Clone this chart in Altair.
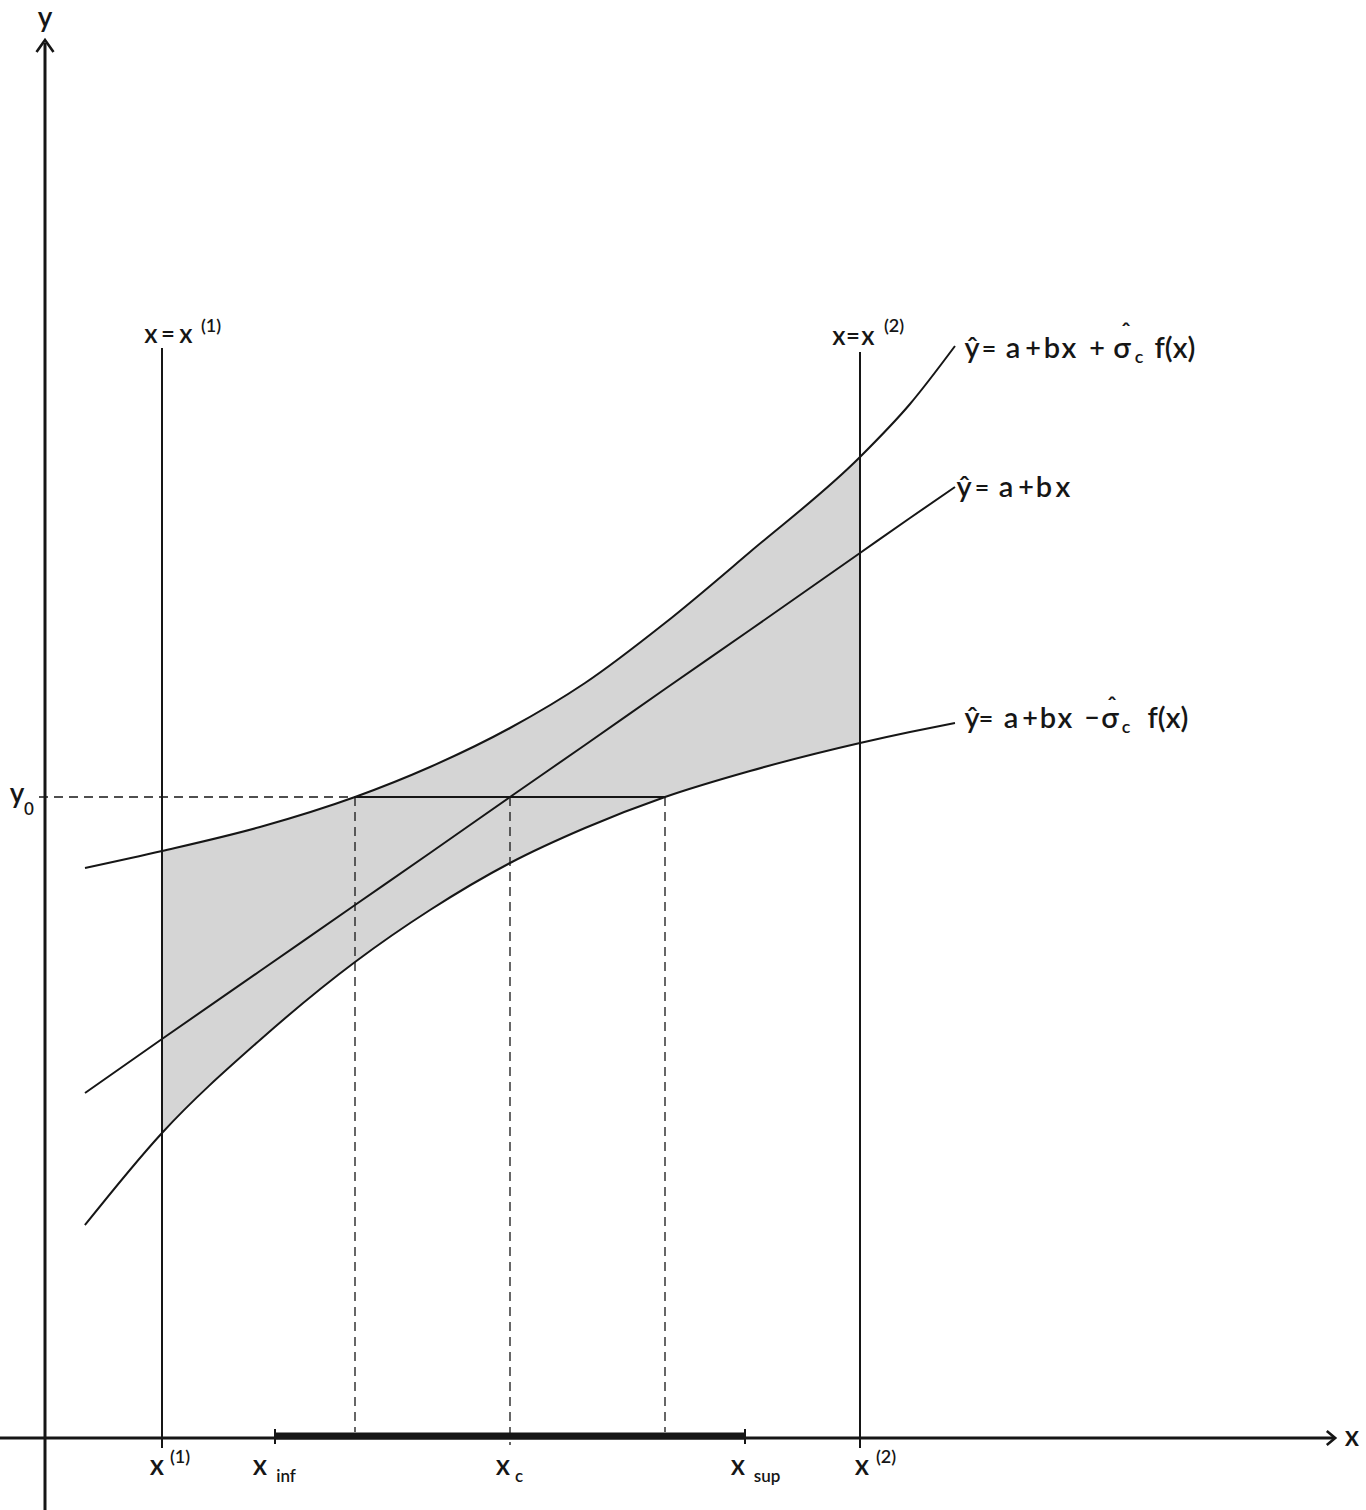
import altair as alt
import pandas as pd

# Diagram units: origin where the two axes cross, y pointing up.
X_MIN, X_MAX = -45, 1321
Y_MIN, Y_MAX = -72, 1438

# Regression line and the two band curves, sampled at common abscissae.
xs     = [40, 117, 215, 310, 385, 465, 540, 620, 705, 815, 865, 910]
upper  = [570, 587, 611, 641, 671, 710, 755, 815, 886, 981, 1034, 1092]
middle = [345, 399, 467, 533, 585, 641, 693, 749, 808, 885, 920, 951]
lower  = [213, 305, 398, 476, 528, 575, 610, 641, 667, 695, 706, 715]

x1, x2 = 117, 815            # x = x(1), x = x(2)
x_inf, x_c, x_sup = 230, 465, 700
x_lo, x_hi = 310, 620        # where y0 meets the upper and lower curves
y0 = 641

INK = "#161616"
FONT = "Lato"
WEIGHT = 600

xsc = alt.Scale(domain=[X_MIN, X_MAX], nice=False, zero=False)
ysc = alt.Scale(domain=[Y_MIN, Y_MAX], nice=False, zero=False)


def X(field="x"):
    return alt.X(f"{field}:Q", scale=xsc, axis=None)


def Y(field="y"):
    return alt.Y(f"{field}:Q", scale=ysc, axis=None)


# --- shaded band, kept only between x(1) and x(2)
band = pd.DataFrame({"x": xs, "lo": lower, "hi": upper})
shade = alt.Chart(band).mark_area(
    interpolate="monotone", color="#d5d5d5", opacity=1
).encode(x=X(), y=Y("lo"), y2=alt.Y2("hi:Q"))

outside = pd.DataFrame({
    "x": [3, x2], "x2": [x1, 960],
    "y": [min(lower) - 10] * 2, "y2": [max(upper) + 10] * 2,
})
blank = alt.Chart(outside).mark_rect(color="white", opacity=1).encode(
    x=X(), x2=alt.X2("x2:Q"), y=Y(), y2=alt.Y2("y2:Q")
)

# --- the three curves
curves = pd.concat([
    pd.DataFrame({"x": xs, "y": upper, "curve": "upper"}),
    pd.DataFrame({"x": xs, "y": middle, "curve": "middle"}),
    pd.DataFrame({"x": xs, "y": lower, "curve": "lower"}),
])
lines = alt.Chart(curves).mark_line(
    interpolate="monotone", color=INK, strokeWidth=2
).encode(x=X(), y=Y(), detail="curve:N")


def rules(rows, **style):
    df = pd.DataFrame(rows, columns=["x", "y", "x2", "y2"])
    return alt.Chart(df).mark_rule(color=INK, **style).encode(
        x=X(), y=Y(), x2=alt.X2("x2:Q"), y2=alt.Y2("y2:Q")
    )


dashed = rules([
    (-6, y0, x_lo, y0),
    (x_lo, y0, x_lo, 6),
    (x_c, y0, x_c, -7),
    (x_hi, y0, x_hi, 6),
], strokeWidth=1.3, strokeDash=[9, 6])

y0_segment = rules([(x_lo, y0, x_hi, y0)], strokeWidth=1.8)

verticals = rules([
    (x1, -10, x1, 1090),
    (x2, -10, x2, 1086),
], strokeWidth=2)

axes = rules([
    (0, Y_MIN, 0, 1395),
    (X_MIN, 0, 1289, 0),
], strokeWidth=3)

interval = rules([(x_inf, 2, x_sup, 2)], strokeWidth=7)
interval_ends = rules([
    (x_inf, -6, x_inf, 9),
    (x_sup, -6, x_sup, 9),
], strokeWidth=2)

# --- arrow heads
up_head = alt.Chart(pd.DataFrame({"x": [0], "y": [1392]})).mark_point(
    shape="M-1,0.7L0,-0.7L1,0.7", size=289, filled=False,
    strokeWidth=2.6, color=INK, opacity=1
).encode(x=X(), y=Y())
right_head = alt.Chart(pd.DataFrame({"x": [1286], "y": [0]})).mark_point(
    shape="M-0.6,-1L0.6,0L-0.6,1", size=196, filled=False,
    strokeWidth=2.6, color=INK, opacity=1
).encode(x=X(), y=Y())

# --- lettering: (text, x centre, baseline, font size)
labels = [
    # axis names
    ("y", 0, 1411, 28), ("x", 1307, -8, 28),
    # y0 on the vertical axis
    ("y", -28, 635, 28), ("0", -16, 623, 17),
    # x = x(1)
    ("x", 106, 1095, 26), ("=", 123, 1096, 24), ("x", 141, 1095, 26),
    ("(1)", 166, 1106, 18),
    # x = x(2)
    ("x", 794, 1093, 26), ("=", 808, 1094, 24), ("x", 823, 1093, 26),
    ("(2)", 849, 1106, 18),
    # ŷ = a + bx + σ̂c f(x)
    ("ŷ", 927, 1080, 29), ("=", 944, 1081, 25), ("a", 968, 1080, 29),
    ("+", 988, 1081, 27), ("b", 1007, 1080, 29), ("x", 1024, 1080, 29),
    ("+", 1052, 1081, 27), ("σ", 1077, 1080, 29), ("ˆ", 1081, 1097, 24),
    ("c", 1094, 1075, 18), ("f(x)", 1130, 1080, 29),
    # ŷ = a + bx
    ("ŷ", 919, 941, 29), ("=", 937, 942, 25), ("a", 961, 941, 29),
    ("+", 981, 942, 27), ("b", 999, 941, 29), ("x", 1018, 941, 29),
    # ŷ = a + bx − σ̂c f(x)
    ("ŷ", 927, 710, 29), ("=", 941, 711, 25), ("a", 966, 710, 29),
    ("+", 985, 711, 27), ("b", 1003, 710, 29), ("x", 1020, 710, 29),
    ("−", 1047, 711, 26), ("σ", 1065, 710, 29), ("ˆ", 1067, 723, 24),
    ("c", 1081, 705, 18), ("f(x)", 1123, 710, 29),
    # marks on the x axis
    ("x", 112, -37, 28), ("(1)", 135, -25, 18),
    ("x", 215, -37, 28), ("inf", 241, -44, 17),
    ("x", 458, -37, 28), ("c", 474, -44, 17),
    ("x", 693, -37, 28), ("sup", 722, -44, 17),
    ("x", 817, -37, 28), ("(2)", 841, -25, 18),
]
text_df = pd.DataFrame(labels, columns=["t", "x", "y", "fs"])
text = alt.Chart(text_df).mark_text(
    align="center", baseline="alphabetic", font=FONT,
    fontWeight=WEIGHT, color=INK
).encode(
    x=X(), y=Y(), text="t:N", size=alt.Size("fs:Q", scale=None)
)

chart = alt.layer(
    shade, blank, dashed, y0_segment, lines, verticals, axes,
    interval, interval_ends, up_head, right_head, text
).properties(
    width=1366, height=1510,
    autosize=alt.AutoSizeParams(type="none"),
    padding=0,
    background="white",
).configure_view(stroke=None)

chart.save("out.html", embed_options={"renderer": "svg", "actions": False})
